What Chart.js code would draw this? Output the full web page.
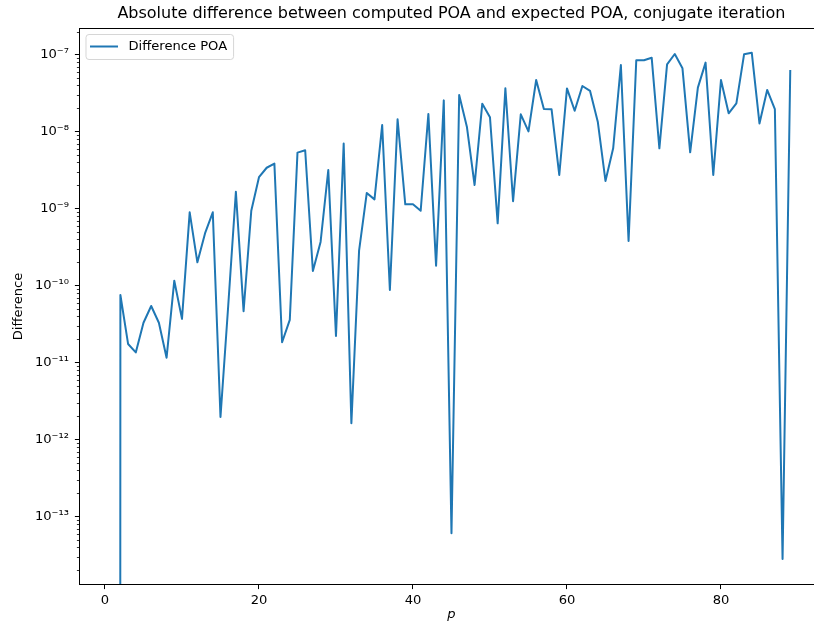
<!DOCTYPE html>
<html>
<head>
<meta charset="utf-8">
<script src="https://cdn.jsdelivr.net/npm/chart.js@4/dist/chart.umd.min.js"></script>
<style>
  html, body { margin: 0; padding: 0; background: #ffffff; }
  #wrap { width: 814px; height: 630px; overflow: hidden; position: relative; background: #ffffff; }
  #c { display: block; }
</style>
</head>
<body>
<div id="wrap"><canvas id="c" width="830" height="630" style="width:830px;height:630px"></canvas></div>
<script>
// ---- data ----
const titleText = 'Absolute difference between computed POA and expected POA, conjugate iteration';
const seriesLabel = 'Difference POA';
const xAxisLabel = 'p';
const yAxisLabel = 'Difference';

const pValues = [
  1, 2, 3, 4, 5, 6, 7, 8, 9, 10,
  11, 12, 13, 14, 15, 16, 17, 18, 19, 20,
  21, 22, 23, 24, 25, 26, 27, 28, 29, 30,
  31, 32, 33, 34, 35, 36, 37, 38, 39, 40,
  41, 42, 43, 44, 45, 46, 47, 48, 49, 50,
  51, 52, 53, 54, 55, 56, 57, 58, 59, 60,
  61, 62, 63, 64, 65, 66, 67, 68, 69, 70,
  71, 72, 73, 74, 75, 76, 77, 78, 79, 80,
  81, 82, 83, 84, 85, 86, 87, 88, 89
];

const diffPOA = [
  0,       7.57e-11, 1.75e-11, 1.36e-11, 3.3e-11,  5.45e-11, 3.3e-11,  1.16e-11, 1.16e-10, 3.7e-11,
  8.97e-10, 2.01e-10, 4.8e-10, 8.97e-10, 1.97e-12, 5.4e-11,  1.66e-9,  4.67e-11, 9.4e-10,  2.56e-9,
  3.4e-9,  3.85e-9,  1.84e-11, 3.59e-11, 5.35e-9,  5.73e-9,  1.55e-10, 3.7e-10,  3.18e-9,  2.22e-11,
  7.0e-9,  1.63e-12, 2.85e-10, 1.6e-9,   1.32e-9,  1.22e-8,  8.8e-11,  1.45e-8,  1.14e-9,  1.14e-9,
  9.4e-10, 1.7e-8,   1.82e-10, 2.55e-8,  6.1e-14,  3.0e-8,   1.16e-8,  2.03e-9,  2.31e-8,  1.54e-8,
  6.45e-10, 3.66e-8, 1.25e-9,  1.68e-8,  1.01e-8,  4.69e-8,  1.97e-8,  1.95e-8,  2.74e-9,  3.65e-8,
  1.87e-8, 3.92e-8,  3.38e-8,  1.35e-8,  2.29e-9,  6.08e-9,  7.35e-8,  3.8e-10,  8.45e-8,  8.45e-8,
  9.14e-8, 6.08e-9,  7.5e-8,   1.02e-7,  6.65e-8,  5.39e-9,  3.73e-8,  7.88e-8,  2.74e-9,  4.69e-8,
  1.73e-8, 2.33e-8,  1.01e-7,  1.06e-7,  1.28e-8,  3.48e-8,  1.97e-8,  2.82e-14, 6.33e-8
];

const xTickValues = [0, 20, 40, 60, 80];
const yTickExponents = [-13, -12, -11, -10, -9, -8, -7];

// ---- axis ranges (as in the reference) ----
const xMin = -3.31, xMax = 93.29;
const yMin = Math.pow(10, -13.881), yMax = Math.pow(10, -6.660);

// ---- helpers ----
const SUP = {'-': '\u207B', '0': '\u2070', '1': '\u00B9', '2': '\u00B2', '3': '\u00B3', '4': '\u2074',
             '5': '\u2075', '6': '\u2076', '7': '\u2077', '8': '\u2078', '9': '\u2079'};
function powerLabel(v) {
  const e = Math.round(Math.log10(v));
  return '10' + String(e).split('').map(c => SUP[c]).join('');
}
// matplotlib clips non-positive values on a log axis to a tiny number
function clipLog(v) { return v > 0 ? v : 1e-300; }

const FONT = 'DejaVu Sans';
Chart.defaults.font.family = FONT;
Chart.defaults.color = '#000000';

const frameAndTicks = {
  id: 'frameAndTicks',
  afterDraw(chart) {
    const {ctx, chartArea} = chart;
    const ys = chart.scales.y;
    ctx.save();
    // minor log ticks
    ctx.strokeStyle = '#000000';
    ctx.lineWidth = 0.8;
    ctx.beginPath();
    for (let n = -15; n <= -6; n++) {
      for (let k = 2; k <= 9; k++) {
        const v = k * Math.pow(10, n);
        if (v < ys.min || v > ys.max) continue;
        const py = Math.round(ys.getPixelForValue(v)) + 0.5;
        ctx.moveTo(chartArea.left - 2.6, py);
        ctx.lineTo(chartArea.left, py);
      }
    }
    ctx.stroke();
    // axes frame
    ctx.lineWidth = 1;
    ctx.strokeRect(chartArea.left, chartArea.top, chartArea.right - chartArea.left, chartArea.bottom - chartArea.top);
    ctx.restore();
  }
};

const mplLegend = {
  id: 'mplLegend',
  afterDatasetsDraw(chart) {
    const {ctx, chartArea} = chart;
    const ds = chart.data.datasets[0];
    ctx.save();
    ctx.font = '13.1px "' + FONT + '"';
    const tw = ctx.measureText(ds.label).width;
    const x = chartArea.left + 6.5, y = chartArea.top + 6;
    const w = 42.5 + tw + 6.5, h = 25, r = 3;
    ctx.beginPath();
    ctx.moveTo(x + r, y);
    ctx.arcTo(x + w, y, x + w, y + h, r);
    ctx.arcTo(x + w, y + h, x, y + h, r);
    ctx.arcTo(x, y + h, x, y, r);
    ctx.arcTo(x, y, x + w, y, r);
    ctx.closePath();
    ctx.fillStyle = 'rgba(255,255,255,0.8)';
    ctx.fill();
    ctx.strokeStyle = 'rgba(204,204,204,0.8)';
    ctx.lineWidth = 1;
    ctx.stroke();
    ctx.beginPath();
    ctx.strokeStyle = ds.borderColor;
    ctx.lineWidth = ds.borderWidth;
    ctx.moveTo(x + 4, y + 12);
    ctx.lineTo(x + 32, y + 12);
    ctx.stroke();
    ctx.fillStyle = '#000000';
    ctx.textBaseline = 'middle';
    ctx.textAlign = 'left';
    ctx.fillText(ds.label, x + 42.5, y + 12.5);
    ctx.restore();
  }
};

new Chart(document.getElementById('c'), {
  type: 'line',
  data: {
    datasets: [{
      label: seriesLabel,
      data: pValues.map((p, i) => ({x: p, y: clipLog(diffPOA[i])})),
      borderColor: '#1f77b4',
      backgroundColor: '#1f77b4',
      borderWidth: 2,
      pointRadius: 0,
      pointHoverRadius: 0,
      tension: 0,
      fill: false,
      borderJoinStyle: 'round',
      borderCapStyle: 'butt'
    }]
  },
  options: {
    responsive: false,
    animation: false,
    devicePixelRatio: 1,
    events: [],
    layout: { padding: { left: 0, right: 6.7, top: 0, bottom: 0 } },
    plugins: {
      legend: { display: false },
      tooltip: { enabled: false },
      title: {
        display: true,
        text: titleText,
        fullSize: false,
        color: '#000000',
        font: { family: FONT, size: 16, weight: 'normal', lineHeight: 1.2 },
        padding: { top: 4, bottom: 5.3 }
      }
    },
    scales: {
      x: {
        type: 'linear',
        position: 'bottom',
        min: xMin,
        max: xMax,
        afterBuildTicks(scale) { scale.ticks = xTickValues.map(v => ({value: v})); },
        afterFit(scale) { scale.height = 45.5; },
        grid: { drawOnChartArea: false, drawTicks: true, tickLength: 4.6, color: '#000000', lineWidth: 1 },
        border: { display: false },
        ticks: {
          autoSkip: false, maxRotation: 0, padding: 3.5, color: '#000000',
          font: { family: FONT, size: 13.1 },
          callback: (v) => String(v)
        },
        title: {
          display: true, text: xAxisLabel, color: '#000000',
          font: { family: FONT, size: 13.1, style: 'italic' },
          padding: { top: 0, bottom: 7.6 }
        }
      },
      y: {
        type: 'logarithmic',
        position: 'left',
        min: yMin,
        max: yMax,
        afterBuildTicks(scale) { scale.ticks = yTickExponents.map(e => ({value: Math.pow(10, e), major: true})); },
        afterFit(scale) { scale.width = 79.5; },
        grid: { drawOnChartArea: false, drawTicks: true, tickLength: 4.6, color: '#000000', lineWidth: 1 },
        border: { display: false },
        ticks: {
          autoSkip: false, padding: 5.9, color: '#000000',
          font: { family: FONT, size: 13.1 },
          callback: (v) => powerLabel(v)
        },
        title: {
          display: true, text: yAxisLabel, color: '#000000',
          font: { family: FONT, size: 13.1 },
          padding: { top: 10.4, bottom: 0 }
        }
      }
    }
  },
  plugins: [mplLegend, frameAndTicks]
});
</script>
</body>
</html>
